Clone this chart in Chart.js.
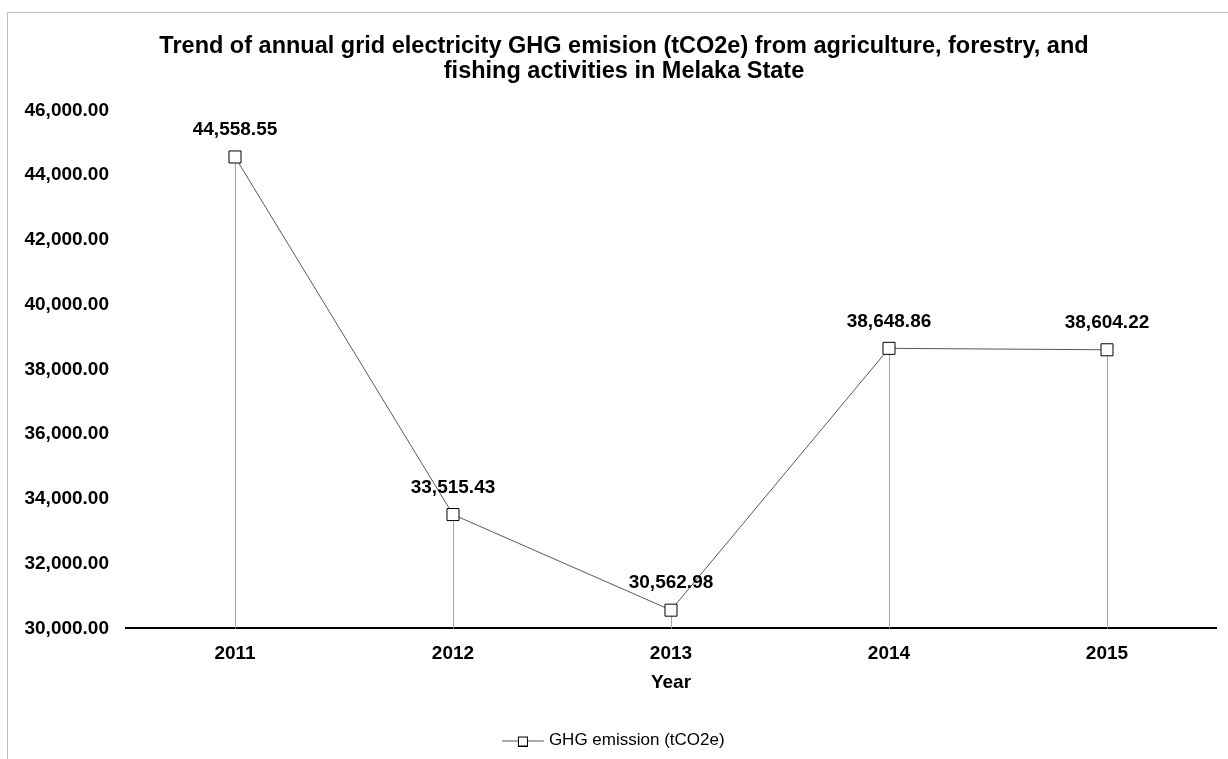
<!DOCTYPE html>
<html>
<head>
<meta charset="utf-8">
<script src="https://cdn.jsdelivr.net/npm/chart.js@4/dist/chart.umd.min.js"></script>
<style>
  html, body { margin: 0; padding: 0; background: #fff; }
  #wrap { position: relative; width: 1228px; height: 759px; }
  #frame {
    position: absolute; left: 7px; top: 12px; right: -2px; bottom: -2px;
    border: 1px solid #bfbfbf;
  }
  #chart { position: absolute; left: 0; top: 0; }
</style>
</head>
<body>
<div id="wrap">
  <div id="frame"></div>
  <canvas id="chart" width="1228" height="759"></canvas>
</div>
<script>
// values
const years = ["2011", "2012", "2013", "2014", "2015"];
const emissions = [44558.55, 33515.43, 30562.98, 38648.86, 38604.22];
const yTicks = [30000, 32000, 34000, 36000, 38000, 40000, 42000, 44000, 46000];

const FONT = "'Liberation Sans', Arial, sans-serif";
const fmt = (v) =>
  v.toLocaleString("en-US", { minimumFractionDigits: 2, maximumFractionDigits: 2 });

// legend marker: line with a hollow square in the middle
// (right part left transparent so the marker sits left of the box centre)
function legendMarker() {
  const c = document.createElement("canvas");
  c.width = 60;
  c.height = 12;
  const g = c.getContext("2d");
  g.strokeStyle = "#595959";
  g.lineWidth = 1;
  g.beginPath();
  g.moveTo(0, 6.5);
  g.lineTo(42, 6.5);
  g.stroke();
  g.fillStyle = "#fff";
  g.fillRect(16.5, 2.5, 9, 9);
  g.strokeStyle = "#000";
  g.strokeRect(16.5, 2.5, 9, 9);
  return c;
}

// the y axis box is kept narrow so the title centres like the reference;
// widen its label clip area back to the canvas edge
const yLabelRoom = {
  id: "yLabelRoom",
  afterLayout(chart) {
    chart.scales.y.left = 0;
  },
};

// grey drop lines from each point down to the x axis
const dropLines = {
  id: "dropLines",
  beforeDatasetsDraw(chart) {
    const { ctx, chartArea } = chart;
    const meta = chart.getDatasetMeta(0);
    ctx.save();
    ctx.strokeStyle = "#a6a6a6";
    ctx.lineWidth = 1;
    meta.data.forEach((pt) => {
      const x = Math.round(pt.x) + 0.5;
      ctx.beginPath();
      ctx.moveTo(x, pt.y);
      ctx.lineTo(x, chartArea.bottom);
      ctx.stroke();
    });
    ctx.restore();
  },
};

// bold value labels above the points
const valueLabels = {
  id: "valueLabels",
  afterDatasetsDraw(chart) {
    const { ctx } = chart;
    const meta = chart.getDatasetMeta(0);
    ctx.save();
    ctx.font = "bold 19px " + FONT;
    ctx.fillStyle = "#000";
    ctx.textAlign = "center";
    ctx.textBaseline = "middle";
    meta.data.forEach((pt, i) => {
      ctx.fillText(fmt(emissions[i]), pt.x, pt.y - 27);
    });
    ctx.restore();
  },
};

new Chart(document.getElementById("chart"), {
  type: "line",
  data: {
    labels: years,
    datasets: [
      {
        label: "GHG emission (tCO2e)",
        data: emissions,
        borderColor: "#595959",
        borderWidth: 1,
        tension: 0,
        pointStyle: "rect",
        pointRadius: 8.5,
        pointBorderColor: "#000",
        pointBackgroundColor: "#fff",
        pointBorderWidth: 1,
      },
    ],
  },
  options: {
    responsive: false,
    animation: false,
    layout: { padding: { top: 34, left: 32, right: 12, bottom: 0 } },
    plugins: {
      title: {
        display: true,
        text: [
          "Trend of annual grid electricity GHG emision (tCO2e) from agriculture, forestry, and",
          "fishing activities in Melaka State",
        ],
        color: "#000",
        font: { family: FONT, size: 23.5, weight: "bold", lineHeight: 1.07 },
        padding: { top: 0, bottom: 26 },
      },
      legend: {
        position: "bottom",
        labels: {
          color: "#000",
          font: { family: FONT, size: 17 },
          usePointStyle: true,
          pointStyle: legendMarker(),
          padding: 14,
        },
      },
      tooltip: { enabled: false },
    },
    scales: {
      x: {
        offset: true,
        grid: { display: false, drawTicks: false, offset: true },
        border: { display: true, color: "#000", width: 2 },
        ticks: { color: "#000", font: { family: FONT, size: 19, weight: "bold" }, padding: 14 },
        title: {
          display: true,
          text: "Year",
          color: "#000",
          font: { family: FONT, size: 19, weight: "bold" },
          padding: { top: -8, bottom: 24 },
        },
      },
      y: {
        min: yTicks[0],
        max: yTicks[yTicks.length - 1],
        afterBuildTicks: (axis) => {
          axis.ticks = yTicks.map((v) => ({ value: v }));
        },
        afterFit: (axis) => {
          axis.width = 94;
        },
        grid: { display: false, drawTicks: false },
        border: { display: false },
        ticks: {
          color: "#000",
          font: { family: FONT, size: 19, weight: "bold" },
          padding: 17,
          callback: (v) => fmt(v),
        },
      },
    },
  },
  plugins: [yLabelRoom, dropLines, valueLabels],
});
</script>
</body>
</html>
